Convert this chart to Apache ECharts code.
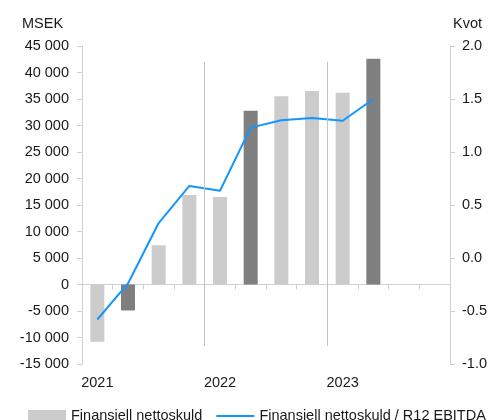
<!DOCTYPE html>
<html>
<head>
<meta charset="utf-8">
<script src="https://cdn.jsdelivr.net/npm/echarts@6/dist/echarts.min.js"></script>
<style>
html,body{margin:0;padding:0;background:#fff;}
#chart{width:490px;height:420px;}
</style>
</head>
<body>
<div id="chart"></div>
<script>
// ---- data ----
const categories = ['2021 Q1','2021 Q2','2021 Q3','2021 Q4','2022 Q1','2022 Q2','2022 Q3','2022 Q4','2023 Q1','2023 Q2','2023 Q3','2023 Q4'];
const yearLabels = {'2021 Q1':'2021','2022 Q1':'2022','2023 Q1':'2023'};
const nettoskuld = [-10800, -4900, 7400, 16900, 16500, 32800, 35500, 36500, 36200, 42600, null, null];
const highlighted = ['2021 Q2','2022 Q2','2023 Q2'];
const kvot = [-0.58, -0.24, 0.33, 0.68, 0.635, 1.23, 1.30, 1.32, 1.295, 1.50, null, null];
const yearBoundaries = [4, 8];
const leftTicks = {min:-15000, max:45000, interval:5000};
const rightTicks = {min:-1.0, max:2.0, interval:0.5};

const FONT = 'Liberation Sans';
const FS = 14.5;
const TXT = '#1a1a1a';
const AXC = '#d0d0d0';

const chart = echarts.init(document.getElementById('chart'), null, {renderer:'canvas'});

const barData = nettoskuld.map((v,i)=> highlighted.includes(categories[i])
  ? {value:v, itemStyle:{color:'#7f7f7f'}} : v);

const option = {
  animation:false,
  textStyle:{fontFamily:FONT},
  title:[
    {text:'MSEK', left:17, top:11, textStyle:{fontFamily:FONT, fontSize:FS, fontWeight:'normal', color:TXT}},
    {text:'Kvot', right:3, top:11, textStyle:{fontFamily:FONT, fontSize:FS, fontWeight:'normal', color:TXT}}
  ],
  grid:{left:82, right:38, top:46, bottom:56, containLabel:false},
  legend:{
    left:28, top:408.5, width:470, itemWidth:38, itemHeight:12, itemGap:13,
    padding:0,
    textStyle:{fontFamily:FONT, fontSize:FS, color:TXT},
    data:[
      {name:'Finansiell nettoskuld', icon:'rect'},
      {name:'Finansiell nettoskuld / R12 EBITDA', itemStyle:{opacity:0}}
    ]
  },
  xAxis:[
    {type:'category', data:categories, boundaryGap:true,
      axisLine:{show:true, onZero:true, lineStyle:{color:AXC}},
      axisTick:{show:true, interval:0, length:5, lineStyle:{color:AXC}},
      axisLabel:{show:false}, splitLine:{show:false}},
    {type:'category', data:categories, boundaryGap:true, position:'bottom',
      axisLine:{show:false, onZero:false}, axisTick:{show:false},
      axisLabel:{show:true, interval:0, margin:11, fontFamily:FONT, fontSize:FS, color:TXT,
        formatter:(v)=>yearLabels[v]||''}},
    {type:'value', min:0, max:categories.length, show:false}
  ],
  yAxis:[
    {type:'value', min:leftTicks.min, max:leftTicks.max, interval:leftTicks.interval, position:'left',
      axisLine:{show:true, lineStyle:{color:AXC}},
      axisTick:{show:true, length:5, lineStyle:{color:AXC}},
      splitLine:{show:false},
      axisLabel:{margin:13, fontFamily:FONT, fontSize:FS, color:TXT,
        formatter:(v)=>{const s=Math.abs(v).toString().replace(/\B(?=(\d{3})+(?!\d))/g,' ');return (v<0?'-':'')+s;}}},
    {type:'value', min:rightTicks.min, max:rightTicks.max, interval:rightTicks.interval, position:'right',
      axisLine:{show:true, lineStyle:{color:AXC}},
      axisTick:{show:true, length:5, lineStyle:{color:AXC}},
      splitLine:{show:false},
      axisLabel:{margin:12, fontFamily:FONT, fontSize:FS, color:TXT, formatter:(v)=>v.toFixed(1)}}
  ],
  series:[
    {name:'year-separators', type:'line', xAxisIndex:2, yAxisIndex:0, data:[], silent:true,
      markLine:{silent:true, symbol:'none', label:{show:false},
        lineStyle:{color:'#c4c4c4', width:1, type:'solid'},
        data: yearBoundaries.map(b=>[{coord:[b, 42000]},{coord:[b, -11600]}])}},
    {name:'Finansiell nettoskuld', type:'bar', xAxisIndex:0, yAxisIndex:0, data:barData,
      barWidth:14, itemStyle:{color:'#cccccc'}},
    {name:'Finansiell nettoskuld / R12 EBITDA', type:'line', xAxisIndex:0, yAxisIndex:1, data:kvot,
      symbol:'none', showSymbol:false, lineStyle:{color:'#1496ff', width:2}, itemStyle:{color:'#1496ff'}}
  ]
};
chart.setOption(option);
</script>
</body>
</html>
